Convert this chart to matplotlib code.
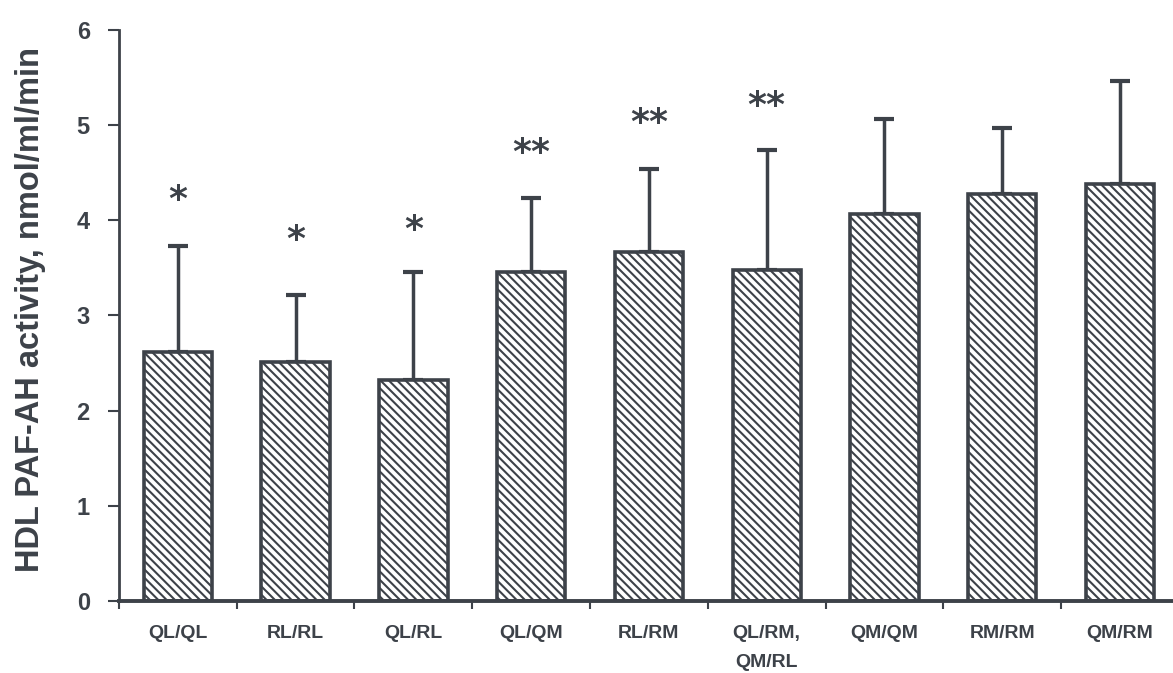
import matplotlib
matplotlib.use("Agg")
import matplotlib.pyplot as plt
import numpy as np

categories = ["QL/QL", "RL/RL", "QL/RL", "QL/QM", "RL/RM", "QL/RM,\nQM/RL", "QM/QM", "RM/RM", "QM/RM"]
means = [2.62, 2.51, 2.32, 3.46, 3.67, 3.48, 4.07, 4.28, 4.38]
sd_upper = [1.11, 0.70, 1.14, 0.77, 0.87, 1.26, 0.99, 0.69, 1.08]
stars = ["*", "*", "*", "**", "**", "**", "", "", ""]
star_y = [4.21, 3.79, 3.90, 4.71, 5.02, 5.20, None, None, None]
yticks = [0, 1, 2, 3, 4, 5, 6]
ylabel = "HDL PAF-AH activity, nmol/ml/min"

ink = "#3d4249"
plt.rcParams["font.family"] = ["Liberation Sans", "DejaVu Sans"]
plt.rcParams["hatch.linewidth"] = 1.5
plt.rcParams["hatch.color"] = ink

fig = plt.figure(figsize=(11.73, 6.73), dpi=100)
ax = fig.add_axes([0.1014, 0.107, 0.8986, 0.8485])

x = np.arange(len(categories))
ax.bar(x, means, width=0.58, color="white", edgecolor=ink, linewidth=2.6,
       hatch="\\\\\\\\", zorder=2)
ax.errorbar(x, means, yerr=[np.zeros(len(means)), sd_upper], fmt="none",
            ecolor=ink, elinewidth=2.5, capsize=7, capthick=3, zorder=1)

for xi, s, sy in zip(x, stars, star_y):
    if s:
        ax.text(xi, sy, s, ha="center", va="center", fontsize=26,
                fontweight="bold", color=ink, family="DejaVu Sans")

ax.set_xlim(-0.5, 8.45)
ax.set_ylim(0, 6)
ax.set_yticks(yticks)
ax.set_yticklabels([str(t) for t in yticks], fontsize=17, fontweight="bold", color=ink)
ax.set_xticks(x)
ax.set_xticklabels(categories, fontsize=14, fontweight="bold", color=ink,
                   linespacing=1.95, va="top")
ax.set_xticks(np.arange(-0.5, 8.5, 1.0), minor=True)
ax.tick_params(axis="x", which="major", length=0, pad=17)
ax.tick_params(axis="x", which="minor", length=6, width=1.5, color=ink)
ax.tick_params(axis="y", which="major", length=8, width=1.5, color=ink, pad=13)

for side in ["top", "right"]:
    ax.spines[side].set_visible(False)
ax.spines["left"].set_color(ink)
ax.spines["left"].set_linewidth(2.0)
ax.spines["bottom"].set_color(ink)
ax.spines["bottom"].set_linewidth(2.8)

ax.set_ylabel(ylabel, fontsize=23.5, fontweight="bold", color=ink)
ax.yaxis.set_label_coords(-0.0695, 0.511)

fig.savefig("out.png", dpi=100, facecolor="white")
